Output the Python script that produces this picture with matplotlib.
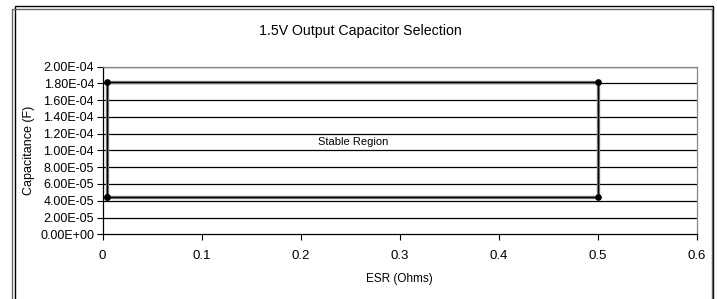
import matplotlib.pyplot as plt
from matplotlib.patches import Rectangle

# stable region corners (ESR in ohms, capacitance in farads)
esr = [0.005, 0.005, 0.5, 0.5, 0.005]
cap = [4.5e-5, 1.82e-4, 1.82e-4, 4.5e-5, 4.5e-5]

x_ticks = [0, 0.1, 0.2, 0.3, 0.4, 0.5, 0.6]
y_ticks = [i * 2e-5 for i in range(11)]

plt.rcParams['font.family'] = ['Liberation Sans', 'DejaVu Sans']

W, H = 717, 299
fig = plt.figure(figsize=(W / 100, H / 100), dpi=100)

# double border around the chart area
fig.patches.append(Rectangle((15 / W, -0.1), 698 / W, 1.1 - 6 / H, transform=fig.transFigure,
                             fill=False, edgecolor='black', lw=1.0))
fig.patches.append(Rectangle((12 / W, -0.1), 700 / W, 1.1 - 9 / H, transform=fig.transFigure,
                             fill=False, edgecolor='#666666', lw=1.0))

ax = fig.add_axes([102.5 / W, 1 - 234.3 / H, 594.5 / W, 167.8 / H])

for y in y_ticks[1:]:
    ax.axhline(y, color='black', lw=0.9, zorder=1)

ax.plot(esr, cap, color='#888888', lw=2.4, zorder=2)
ax.plot(esr, cap, color='black', lw=1.0, marker='o', markersize=3.8, zorder=3)

ax.set_xlim(0, 0.6)
ax.set_ylim(0, 2e-4)
ax.set_xticks(x_ticks)
ax.set_xticklabels(['0', '0.1', '0.2', '0.3', '0.4', '0.5', '0.6'])
ax.set_yticks(y_ticks)
ax.set_yticklabels([f"{v:.2E}" for v in y_ticks])
ax.tick_params(axis='both', direction='out', length=4, width=0.8, labelsize=9, colors='black')
ax.tick_params(axis='x', labelsize=9.5, pad=7)
ax.tick_params(axis='y', pad=2)

for s in ['top', 'right']:
    ax.spines[s].set_color('#888888')
    ax.spines[s].set_linewidth(0.9)
for s in ['left', 'bottom']:
    ax.spines[s].set_color('black')
    ax.spines[s].set_linewidth(0.9)

ax.text(0.253, 1.1e-4, 'Stable Region', ha='center', va='center', fontsize=8)

ax.set_xlabel('ESR (Ohms)', fontsize=8.5, labelpad=8)
ax.set_ylabel('Capacitance (F)', fontsize=9, va='center')
ax.yaxis.set_label_coords(-0.1236, 0.5)
fig.text(360 / W, 1 - 31 / H, '1.5V Output Capacitor Selection', ha='center', va='center', fontsize=10.2)

fig.savefig('out.png', dpi=100)
